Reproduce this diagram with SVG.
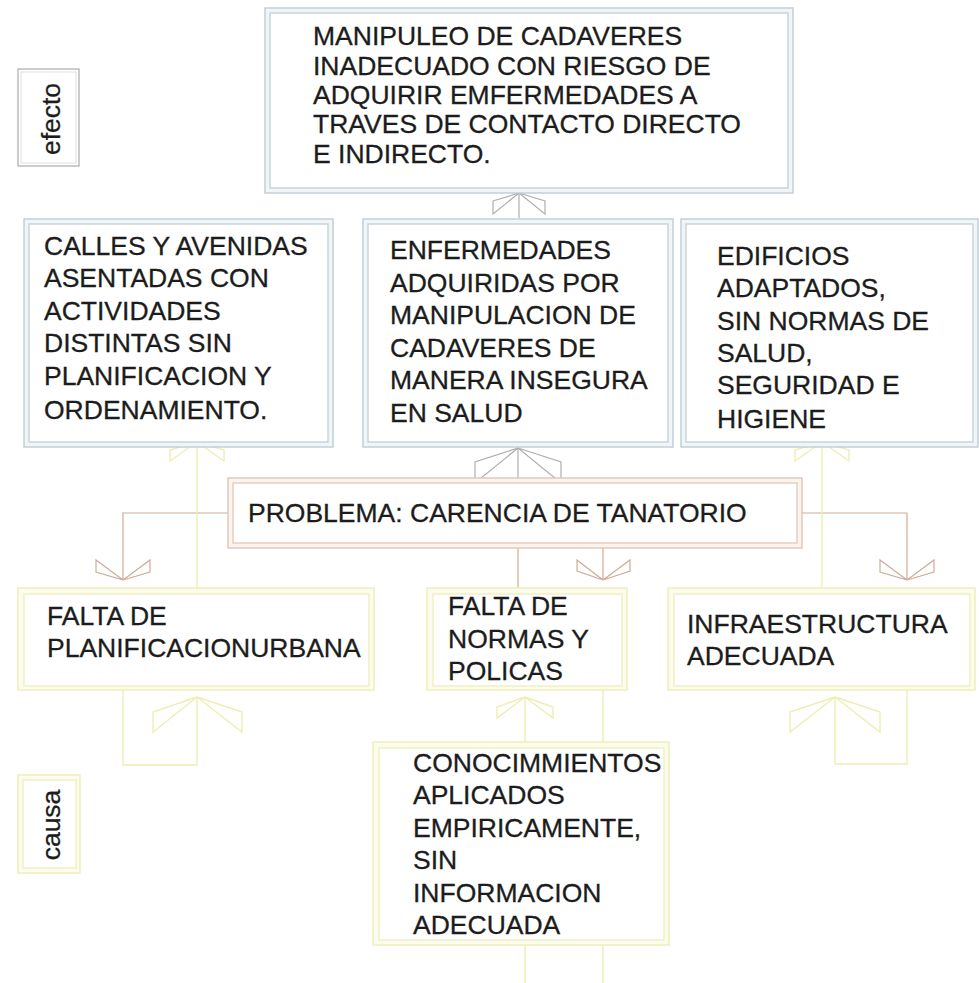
<svg xmlns="http://www.w3.org/2000/svg" width="979" height="983" viewBox="0 0 979 983">
<style>
text{font-family:"Liberation Sans",Arial,sans-serif;font-size:26.5px;fill:#1c1c1c;stroke:#1c1c1c;stroke-width:0.3}
.bo{fill:#f2f5f7;stroke:#bfccd4;stroke-width:1.4}
.bi{fill:#fff;stroke:#c6d2da;stroke-width:1.4}
.yo{fill:#fcfcee;stroke:#eeeeb6;stroke-width:1.4}
.yi{fill:#fff;stroke:#f0f0c0;stroke-width:1.4}
.po{fill:#faf3ee;stroke:#e0c6b6;stroke-width:1.4}
.pi{fill:#fff;stroke:#e3cdbf;stroke-width:1.4}
.cg{fill:none;stroke:#b0b0b0;stroke-width:1.2}
.cb{fill:none;stroke:#cfac96;stroke-width:1.2}
.cy{fill:none;stroke:#eeeeb4;stroke-width:1.4}
</style>
<rect width="979" height="983" fill="#fff"/>

<g id="connectors">
  <path class="cg" d="M519 218V193 M519 193L493 201L493 214Z M519 193L545 201L545 214Z"/>
  <path class="cg" d="M518 480V448 M518 448L475 462L475 483Z M518 448L561 462L561 483Z"/>
  <path class="cb" d="M228 513H123V580 M123 580L96 560L96 572Z M123 580L150 560L150 572Z"/>
  <path class="cb" d="M802 513H907V580 M907 580L880 560L880 572Z M907 580L934 560L934 572Z"/>
  <path class="cb" d="M603 543V580 M603 580L577 560L577 571Z M603 580L630 560L630 571Z"/>
  <path class="cb" d="M518 543V588"/>
  <path class="cy" d="M197 588V442 M197 442L170 450L170 461Z M197 442L224 450L224 461Z"/>
  <path class="cy" d="M822 588V442 M822 442L795 450L795 461Z M822 442L849 450L849 461Z"/>
  <path class="cy" d="M123 690V765H197V697 M197 697L153 712L153 732Z M197 697L242 712L242 732Z"/>
  <path class="cy" d="M907 690V764H835V697 M835 697L790 712L790 732Z M835 697L880 712L880 732Z"/>
  <path class="cy" d="M525 742V697 M525 697L497 707L497 718Z M525 697L553 707L553 718Z"/>
  <path class="cy" d="M603 690V742"/>
  <path class="cy" d="M525 945V983 M603 945V983"/>
</g>

<g id="label-efecto">
  <rect x="18" y="69" width="61" height="97" fill="#fff" stroke="#ababab" stroke-width="1.2"/>
  <rect x="21" y="72" width="55" height="91" fill="none" stroke="#e0e0e0" stroke-width="1"/>
  <text transform="translate(60,119) rotate(-90)" text-anchor="middle">efecto</text>
</g>

<g id="node-efecto-principal">
  <rect class="bo" x="265" y="8" width="528" height="185"/>
  <rect class="bi" x="270" y="13" width="518" height="175"/>
  <text x="313" y="45">MANIPULEO DE CADAVERES</text>
  <text x="313" y="75">INADECUADO CON RIESGO DE</text>
  <text x="313" y="104">ADQUIRIR EMFERMEDADES A</text>
  <text x="313" y="133">TRAVES DE CONTACTO DIRECTO</text>
  <text x="313" y="163">E INDIRECTO.</text>
</g>

<g id="node-efecto-1">
  <rect class="bo" x="24" y="219" width="309" height="228"/>
  <rect class="bi" x="29" y="224" width="299" height="218"/>
  <text x="44" y="255">CALLES Y AVENIDAS</text>
  <text x="44" y="287">ASENTADAS CON</text>
  <text x="44" y="320">ACTIVIDADES</text>
  <text x="44" y="352">DISTINTAS SIN</text>
  <text x="44" y="385">PLANIFICACION Y</text>
  <text x="44" y="419">ORDENAMIENTO.</text>
</g>

<g id="node-efecto-2">
  <rect class="bo" x="363" y="219" width="310" height="228"/>
  <rect class="bi" x="368" y="224" width="300" height="218"/>
  <text x="390" y="259">ENFERMEDADES</text>
  <text x="390" y="292">ADQUIRIDAS POR</text>
  <text x="390" y="324">MANIPULACION DE</text>
  <text x="390" y="357">CADAVERES DE</text>
  <text x="390" y="389">MANERA INSEGURA</text>
  <text x="390" y="422">EN SALUD</text>
</g>

<g id="node-efecto-3">
  <rect class="bo" x="681" y="219" width="297" height="228"/>
  <rect class="bi" x="686" y="224" width="287" height="218"/>
  <text x="717" y="265">EDIFICIOS</text>
  <text x="717" y="297">ADAPTADOS,</text>
  <text x="717" y="330">SIN NORMAS DE</text>
  <text x="717" y="362">SALUD,</text>
  <text x="717" y="394">SEGURIDAD E</text>
  <text x="717" y="428">HIGIENE</text>
</g>

<g id="node-problema">
  <rect class="po" x="228" y="478" width="574" height="70"/>
  <rect class="pi" x="233" y="483" width="564" height="60"/>
  <text x="248" y="522">PROBLEMA: CARENCIA DE TANATORIO</text>
</g>

<g id="node-causa-1">
  <rect class="yo" x="18" y="588" width="356" height="102"/>
  <rect class="yi" x="24" y="594" width="345" height="92"/>
  <text x="47" y="625">FALTA DE</text>
  <text x="47" y="657">PLANIFICACIONURBANA</text>
</g>

<g id="node-causa-2">
  <rect class="yo" x="427" y="588" width="200" height="102"/>
  <rect class="yi" x="433" y="594" width="189" height="92"/>
  <text x="448" y="615">FALTA DE</text>
  <text x="448" y="648">NORMAS Y</text>
  <text x="448" y="680">POLICAS</text>
</g>

<g id="node-causa-3">
  <rect class="yo" x="668" y="588" width="307" height="102"/>
  <rect class="yi" x="674" y="594" width="296" height="92"/>
  <text x="687" y="633">INFRAESTRUCTURA</text>
  <text x="687" y="665">ADECUADA</text>
</g>

<g id="node-causa-4">
  <rect class="yo" x="373" y="742" width="296" height="203"/>
  <rect class="yi" x="379" y="748" width="285" height="192"/>
  <text x="413" y="772">CONOCIMMIENTOS</text>
  <text x="413" y="804">APLICADOS</text>
  <text x="413" y="837">EMPIRICAMENTE,</text>
  <text x="413" y="869">SIN</text>
  <text x="413" y="902">INFORMACION</text>
  <text x="413" y="934">ADECUADA</text>
</g>

<g id="label-causa">
  <rect class="yo" x="18" y="775" width="62" height="98"/>
  <rect class="yi" x="23" y="780" width="53" height="88"/>
  <text transform="translate(60,825) rotate(-90)" text-anchor="middle">causa</text>
</g>
</svg>
